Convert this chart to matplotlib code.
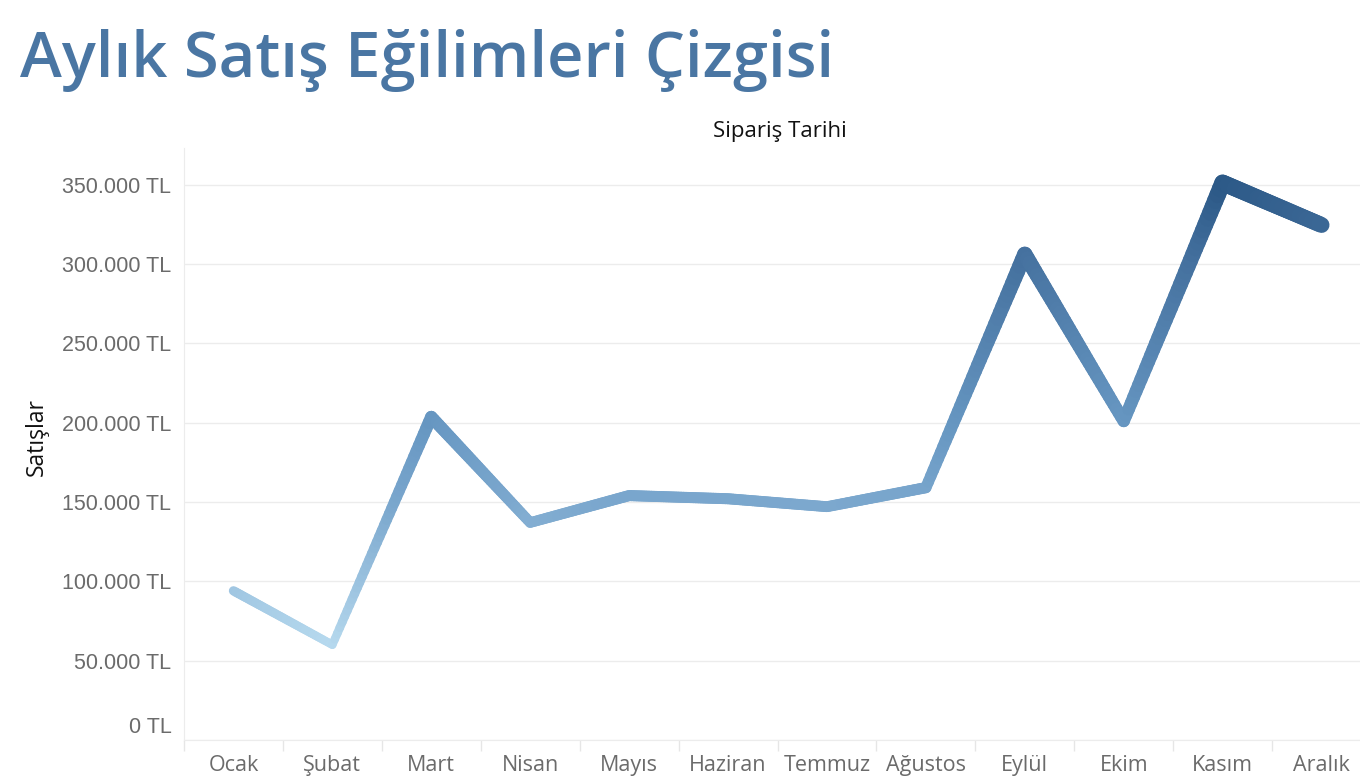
import numpy as np
import matplotlib
matplotlib.use("Agg")
import matplotlib.pyplot as plt
from matplotlib.collections import LineCollection
from matplotlib.colors import LinearSegmentedColormap
import matplotlib.transforms as mtransforms

months = ["Ocak", "Şubat", "Mart", "Nisan", "Mayıs", "Haziran", "Temmuz",
          "Ağustos", "Eylül", "Ekim", "Kasım", "Aralık"]
sales = [94000, 60000, 203500, 137000, 154000, 152000, 147000, 159000,
         306000, 201000, 351000, 324500]
yticks = [0, 50000, 100000, 150000, 200000, 250000, 300000, 350000]
ytick_labels = ["0 TL", "50.000 TL", "100.000 TL", "150.000 TL", "200.000 TL",
                "250.000 TL", "300.000 TL", "350.000 TL"]

fig = plt.figure(figsize=(13.6, 7.84), dpi=100)
ax = fig.add_axes([184/1360, 1 - 740/784, 1187/1360, (740-148)/784])

cmap = LinearSegmentedColormap.from_list(
    "tblue", [(0.0, "#b6d9ee"), (0.3, "#7ca8ce"), (0.48, "#6797c2"),
              (0.85, "#44709e"), (1.0, "#2c5987")])
vmin, vmax = min(sales), max(sales)

x = np.arange(len(months))
segs, cols, lws = [], [], []
n_sub = 40
for i in range(len(x) - 1):
    t = np.linspace(0, 1, n_sub + 1)
    xs = x[i] + (x[i+1] - x[i]) * t
    ys = sales[i] + (sales[i+1] - sales[i]) * t
    for j in range(n_sub):
        segs.append([(xs[j], ys[j]), (xs[j+1], ys[j+1])])
        v = (ys[j] + ys[j+1]) / 2
        f = (v - vmin) / (vmax - vmin)
        cols.append(cmap(f))
        lws.append(6.0 + f * 6.0)
lc = LineCollection(segs, colors=cols, linewidths=lws, capstyle="round",
                    joinstyle="round", zorder=3)
ax.add_collection(lc)

ax.set_xlim(-0.5, len(months) - 0.5)
ax.set_ylim(0, 373000)

ax.set_yticks(yticks)
ax.set_yticklabels(ytick_labels, fontfamily="Liberation Sans", fontsize=15.5, color="#6b6b6b")
ax.tick_params(axis="y", length=0, pad=9)
ax.set_xticks(x)
ax.set_xticklabels(months, fontfamily="Open Sans", fontsize=15.5, color="#6b6b6b")
ax.tick_params(axis="x", length=0, pad=11)
ax.set_xticks(np.arange(-0.5, len(months), 1), minor=True)
ax.tick_params(axis="x", which="minor", length=8, color="#e6e6e6", width=1)

# shift the 0 label up as in the reference
lbl0 = ax.get_yticklabels()[0]
lbl0.set_transform(lbl0.get_transform() + mtransforms.ScaledTranslation(0, 15/100, fig.dpi_scale_trans))

ax.grid(axis="y", color="#ececec", linewidth=1)
ax.set_axisbelow(True)
for s in ["top", "right"]:
    ax.spines[s].set_visible(False)
ax.spines["left"].set_color("#ececec")
ax.spines["bottom"].set_color("#ececec")

ax.set_ylabel("Satışlar", fontfamily="Open Sans", fontsize=16.5, color="#111111")
ax.yaxis.set_label_coords(-(184-49)/1187, (740-437)/(740-148))

fig.text(20/1360, 1 - 77/784, "Aylık Satış Eğilimleri Çizgisi", fontfamily="Open Sans",
         fontweight="semibold", fontsize=45.5, color="#4a76a3", va="baseline", ha="left")
fig.text(780/1360, 1 - 131/784, "Sipariş Tarihi", fontfamily="Open Sans",
         fontsize=16, color="#111111", va="center", ha="center")

fig.savefig("out.png", dpi=100)
